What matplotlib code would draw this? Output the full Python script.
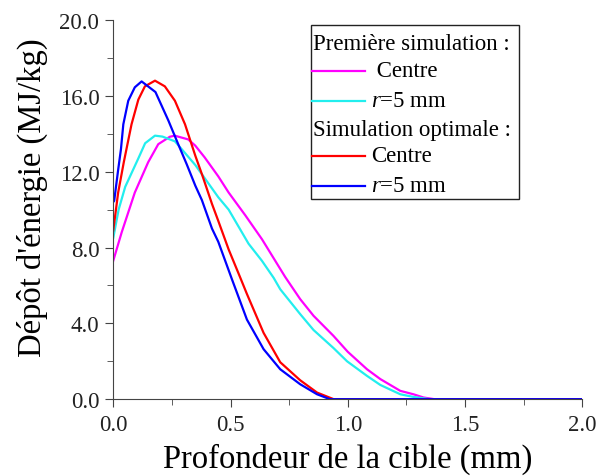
import numpy as np
import matplotlib
matplotlib.use('Agg')
import matplotlib.pyplot as plt
from matplotlib.patches import Rectangle
from matplotlib.ticker import MultipleLocator, FormatStrFormatter

plt.rcParams['font.family'] = 'Liberation Serif'
plt.rcParams['mathtext.fontset'] = 'custom'
plt.rcParams['mathtext.it'] = 'Liberation Serif:italic'
plt.rcParams['mathtext.rm'] = 'Liberation Serif'

# Première simulation - centre (magenta)
x_p_centre = [0, 0.036, 0.092, 0.149, 0.192, 0.241, 0.262, 0.32, 0.35, 0.39, 0.448, 0.492,
              0.563, 0.634, 0.733, 0.797, 0.854, 0.939, 1.0, 1.082, 1.139, 1.224, 1.28, 1.323, 1.37, 2.0]
y_p_centre = [7.3, 8.8, 10.9, 12.5, 13.45, 13.84, 13.9, 13.7, 13.37, 12.75, 11.75, 10.9,
              9.7, 8.44, 6.45, 5.28, 4.4, 3.34, 2.5, 1.58, 1.06, 0.44, 0.26, 0.09, 0, 0]

# Première simulation - r=5 mm (cyan)
x_p_r5 = [0, 0.023, 0.051, 0.107, 0.136, 0.178, 0.21, 0.263, 0.291, 0.35, 0.448, 0.492,
          0.577, 0.634, 0.684, 0.712, 0.797, 0.854, 0.939, 0.997, 1.082, 1.139, 1.224, 1.28, 1.35, 2.0]
y_p_r5 = [8.5, 10.0, 11.2, 12.7, 13.5, 13.9, 13.85, 13.6, 13.2, 12.35, 10.65, 10.0,
          8.2, 7.3, 6.4, 5.8, 4.49, 3.65, 2.7, 2.0, 1.23, 0.75, 0.26, 0.12, 0, 0]

# Simulation optimale - centre (rouge)
x_o_centre = [0, 0.021, 0.045, 0.078, 0.107, 0.135, 0.178, 0.22, 0.263, 0.306, 0.35, 0.38, 0.421,
              0.448, 0.492, 0.542, 0.57, 0.641, 0.712, 0.797, 0.869, 0.94, 2.0]
y_o_centre = [8.9, 10.9, 12.5, 14.5, 15.8, 16.5, 16.8, 16.5, 15.74, 14.5, 12.84, 11.8, 10.3,
              9.4, 7.9, 6.4, 5.55, 3.5, 1.95, 1.0, 0.35, 0, 0]

# Simulation optimale - r=5 mm (bleu)
x_o_r5 = [0, 0.004, 0.021, 0.033, 0.043, 0.064, 0.092, 0.121, 0.18, 0.235, 0.277, 0.313, 0.35,
          0.378, 0.421, 0.448, 0.506, 0.57, 0.641, 0.712, 0.797, 0.869, 0.924, 2.0]
y_o_r5 = [10.4, 10.46, 12.1, 13.2, 14.5, 15.74, 16.45, 16.76, 16.2, 14.7, 13.45, 12.4, 11.26,
          10.5, 9.0, 8.3, 6.33, 4.2, 2.64, 1.58, 0.79, 0.26, 0, 0]

fig = plt.figure(figsize=(5.96, 4.77), dpi=100)
ax = fig.add_axes([0.19, 0.161, 0.787, 0.795])

lw = 1.6
ax.plot(x_p_centre, y_p_centre, color='#ff00ff', lw=lw)
ax.plot(x_p_r5, y_p_r5, color='#22eeee', lw=lw)
ax.plot(x_o_centre, y_o_centre, color='#ff0000', lw=lw)
ax.plot(x_o_r5, y_o_r5, color='#0000ff', lw=lw)

ax.set_xlim(0, 2.0)
ax.set_ylim(0, 20.0)
ax.xaxis.set_major_locator(MultipleLocator(0.5))
ax.xaxis.set_minor_locator(MultipleLocator(0.25))
ax.yaxis.set_major_locator(MultipleLocator(4))
ax.yaxis.set_minor_locator(MultipleLocator(2))
ax.xaxis.set_major_formatter(FormatStrFormatter('%.1f'))
ax.yaxis.set_major_formatter(FormatStrFormatter('%.1f'))
ax.spines['top'].set_visible(False)
ax.spines['right'].set_visible(False)
for s in ['left', 'bottom']:
    ax.spines[s].set_color('#444444')
ax.tick_params(which='major', length=6, labelsize=16.5, colors='#444444', labelcolor='#222222')
ax.tick_params(which='minor', length=4, colors='#444444')
ax.tick_params(axis='x', which='major', pad=5)
ax.tick_params(axis='y', which='major', pad=4)

ax.set_xlabel('Profondeur de la cible (mm)', fontsize=23.5, labelpad=5)
ax.set_ylabel("Dépôt d'énergie (MJ/kg)", fontsize=23.5)
ax.yaxis.set_label_coords(-0.14, 0.535)

# légende
tr = ax.transAxes
ax.add_patch(Rectangle((0.422, 0.528), 0.442, 0.459, transform=tr, fill=False,
                       ec='#222222', lw=1.0, zorder=5))
rows = [0.937, 0.866, 0.787, 0.712, 0.642, 0.563]
fs = 16.5
ax.text(0.426, rows[0], 'Première simulation :', transform=tr, fontsize=fs, va='center', zorder=6)
ax.text(0.426, rows[3], 'Simulation optimale :', transform=tr, fontsize=fs, va='center', zorder=6)
entries = [(rows[1], '#ff00ff', ' Centre'), (rows[2], '#22eeee', '$r$=5 mm'),
           (rows[4], '#ff0000', 'Centre'), (rows[5], '#0000ff', '$r$=5 mm')]
for yy, c, lab in entries:
    ax.plot([0.424, 0.537], [yy, yy], color=c, lw=lw, transform=tr, zorder=6)
    ax.text(0.550, yy, lab, transform=tr, fontsize=fs, va='center', zorder=6)

fig.savefig('out.png', dpi=100)
